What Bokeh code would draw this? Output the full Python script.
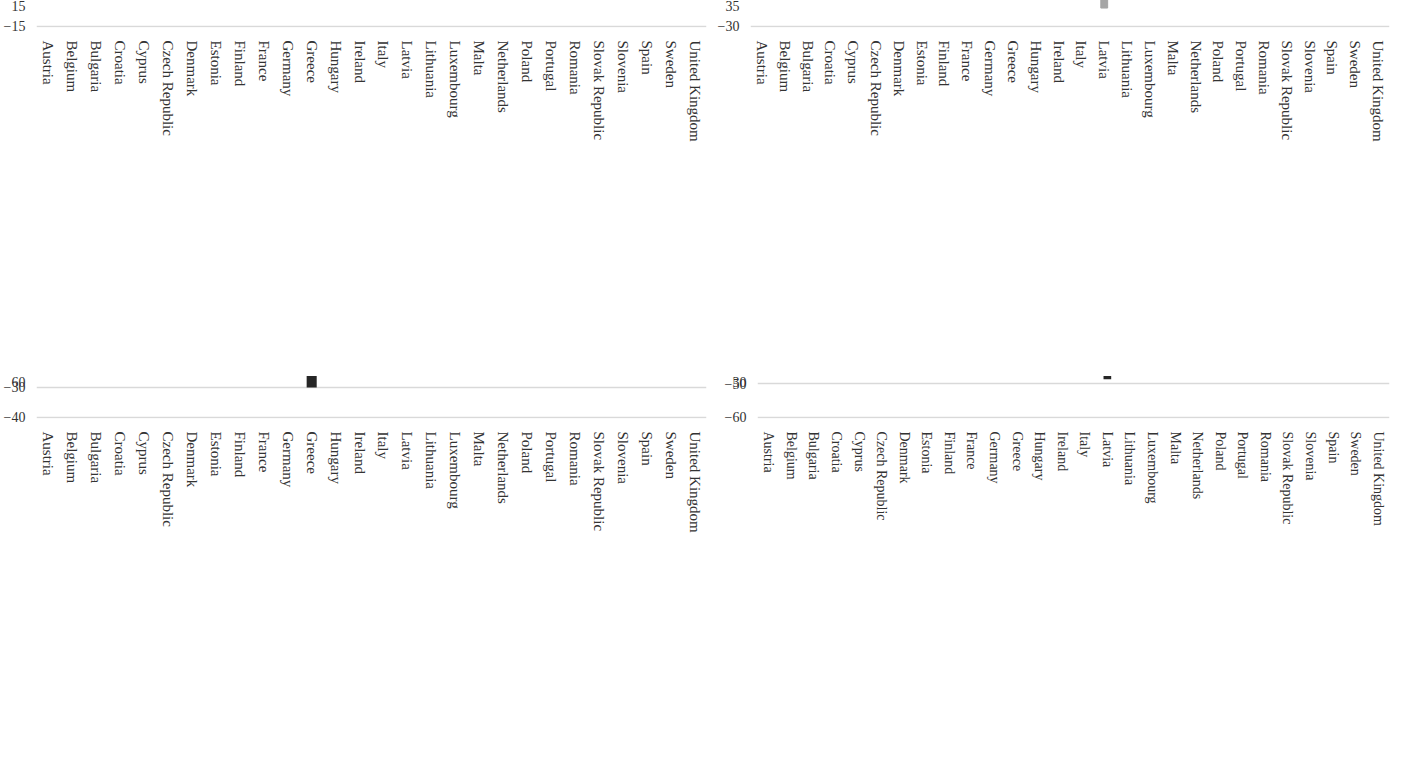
from bokeh.plotting import figure
from bokeh.models import Range1d, FactorRange, FixedTicker, Legend, LegendItem, ColumnDataSource
from bokeh.layouts import column, row
from bokeh.embed import file_html
from bokeh.resources import INLINE

countries = ["Austria", "Belgium", "Bulgaria", "Croatia", "Cyprus", "Czech Republic", "Denmark",
             "Estonia", "Finland", "France", "Germany", "Greece", "Hungary", "Ireland", "Italy",
             "Latvia", "Lithuania", "Luxembourg", "Malta", "Netherlands", "Poland", "Portugal",
             "Romania", "Slovak Republic", "Slovenia", "Spain", "Sweden", "United Kingdom"]

# Panel 1: Development of Public and Private Shares of Total Health Care Expenditures
shares_public = [-1.4, -0.3, -0.2, -0.4, 6.3, 2.1, -0.1, -2.0, -0.4, 0.2, 7.8, 10.6, -1.1, -3.1,
                 0.8, -0.1, 0.3, -1.6, -0.2, 0.8, 0.15, 1.3, -1.2, -3.3, 0.1, 1.1, 0.15, 0.15]
shares_private = [1.4, 0.3, 0.2, 0.4, -6.8, -2.2, 0.2, 0.7, 0.5, -0.2, -8.0, -10.5, 1.2, 3.1,
                  -0.8, 0.2, -0.4, 1.6, 0.2, -1.0, 0.0, -1.4, 1.2, 3.2, -0.3, -1.1, 0.0, 0.0]

# Panel 2: Development of Total Health Expenditures
total_ppp = [6.9, 11.7, 18.0, 0.0, -0.6, 7.9, 13.3, 5.1, 6.6, 9.5, 12.0, -7.4, 10.4, 12.3, 3.5,
             -1.6, 4.1, 6.4, 9.2, 6.4, 16.1, 7.6, 16.4, 18.0, 2.1, 3.5, 1.6, 9.2]
total_usd = [-4.7, -2.5, 6.2, -10.7, -9.4, -5.4, -2.1, -10.7, -5.2, -4.1, -0.7, -14.1, -11.9, -8.8,
             -7.9, -24.5, -14.1, -1.4, -1.4, -3.6, -9.5, -4.7, -9.5, 3.4, -7.4, -6.4, -4.7, -8.2]

# Panel 3: Percental Change in HE per Capita, PPP (current international $)
ppp_public = [5.0, 11.6, 17.2, 0.5, 14.1, 11.2, 12.9, 1.9, 5.8, 9.3, 23.7, 9.8, 8.3, 7.7, 4.2,
              -0.7, 4.2, 3.7, 8.3, 7.0, 15.8, 9.8, 14.5, 12.7, 1.9, 5.0, 0.8, 9.1]
ppp_private = [12.2, 10.4, 17.9, 1.5, -12.5, -4.2, 13.7, 7.8, 8.7, 10.0, -24.1, -30.1, 14.1, 29.2,
               0.0, -2.0, 2.4, 20.0, 10.4, 1.3, 14.9, 2.9, 23.7, 33.4, 1.6, -1.0, 1.7, 8.1]

# Panel 4: Percental Change in HE per Capita, current US $
usd_public = [-6.5, -2.4, 5.7, -11.2, 4.1, -2.7, -2.1, -13.0, -5.7, -4.7, 9.5, 0.6, -13.6, -12.2,
              -7.4, -24.8, -13.6, -3.3, -1.5, -2.2, -9.0, -2.7, -10.6, -0.8, -7.2, -5.1, -4.7, -7.9]
usd_private = [0.0, -4.0, 6.9, -8.1, -20.1, -15.6, -1.4, -8.7, -2.8, -2.7, -33.0, -35.8, -8.8, 5.0,
               -10.4, -23.8, -15.3, 11.0, -0.3, -8.1, -9.6, -8.6, -4.1, 16.7, -7.5, -10.1, -4.8, -9.2]

GRAY = "#a6a6a6"
DARK = "#262626"
FONT = "Liberation Serif"
MINUS = "\u2212"


def stack(series_list):
    """Excel-style stacking: positives pile up from 0, negatives pile down from 0."""
    n = len(countries)
    pos = [0.0] * n
    neg = [0.0] * n
    out = []
    for vals in series_list:
        xs, bottoms, tops, ends = [], [], [], []
        for i, v in enumerate(vals):
            v = float(v)
            if v == 0:
                continue
            if v > 0:
                b, t = pos[i], pos[i] + v
                pos[i] = t
                e = t
            else:
                b, t = neg[i] + v, neg[i]
                neg[i] = b
                e = b
            xs.append(countries[i])
            bottoms.append(b)
            tops.append(t)
            ends.append(e)
        out.append((xs, bottoms, tops, ends))
    return out


def panel(title, series, names, colors, lo, hi, step, w, h, bl, br, bt, bb,
          bar_w, label_size, overrides=None, mode="overlay", outline=True, use_cds=True):
    pad = (hi - lo) * 0.004
    p = figure(x_range=FactorRange(factors=countries), y_range=Range1d(lo - pad, hi + pad),
               width=w, height=h, output_backend="svg", toolbar_location=None,
               min_border_left=bl, min_border_right=br, min_border_top=bt, min_border_bottom=bb)
    p.title.text = title
    p.title.align = "center"
    p.title.text_font = FONT
    p.title.text_font_size = "14px"
    p.title.text_font_style = "normal"
    p.title.text_color = "#222222"
    p.outline_line_color = None
    p.xgrid.grid_line_color = None
    p.ygrid.grid_line_color = "#d9d9d9"
    p.ygrid.grid_line_width = 1.5
    ticks = list(range(lo, hi + 1, step))
    p.yaxis.ticker = FixedTicker(ticks=ticks)
    ov = {t: (MINUS + str(-t) if t < 0 else str(t)) for t in ticks}
    if overrides:
        ov.update(overrides)
    p.yaxis.major_label_overrides = ov
    for ax in (p.xaxis, p.yaxis):
        ax.axis_line_color = None
        ax.major_tick_line_color = None
        ax.minor_tick_line_color = None
        ax.major_label_text_font = FONT
        ax.major_label_text_color = "#333333"
    p.yaxis.major_label_text_font_size = "14px"
    p.xaxis.major_label_text_font_size = label_size
    p.xaxis.major_label_orientation = "vertical"
    p.xaxis.major_label_standoff = 7
    stacked = stack(series)
    rends = {}
    order = list(range(len(series)))
    if mode == "overlay":
        order = order[::-1]
    for k in order:
        xs, bottom, top, ends = stacked[k]
        col = colors[k]
        lc = col if outline else None
        if mode == "overlay":
            if use_cds:
                src = ColumnDataSource(dict(x=xs, top=ends))
                r = p.vbar(x="x", top="top", width=bar_w, source=src, fill_color=col, line_color=lc)
            else:
                r = p.vbar(x=xs, top=ends, width=bar_w, fill_color=col, line_color=lc)
        else:
            if use_cds:
                src = ColumnDataSource(dict(x=xs, bottom=bottom, top=top))
                r = p.vbar(x="x", bottom="bottom", top="top", width=bar_w, source=src,
                           fill_color=col, line_color=lc)
            else:
                r = p.vbar(x=xs, bottom=bottom, top=top, width=bar_w, fill_color=col, line_color=lc)
        rends[k] = r
    legend = Legend(items=[LegendItem(label=names[k], renderers=[rends[k]]) for k in range(len(series))],
                    orientation="horizontal", location="center",
                    label_text_font=FONT, label_text_font_size="15px", label_text_color="#222222",
                    glyph_width=8, glyph_height=8, label_standoff=2, spacing=16,
                    padding=0, margin=8, border_line_color=None, background_fill_alpha=0)
    p.add_layout(legend, "below")
    return p


p1 = panel("Development of Public and Private Shares of Total Health Care Expenditures",
           [shares_public, shares_private], ["public", "private"], [GRAY, DARK],
           -15, 15, 5, 708, 376, 28, 2, 26, 163, 0.4, "15px",
           mode="overlay", outline=True, use_cds=False)
p2 = panel("Development of Total Health Expenditures",
           [total_ppp, total_usd], ["PPP (current international $)", "current US $"], [DARK, GRAY],
           -30, 30, 10, 683, 376, 42, 2, 25, 160, 0.3, "15px", overrides={30: "35"},
           mode="bottom", outline=True, use_cds=True)
p3 = panel("Percental Change in HE per Capita, PPP (current international $)",
           [ppp_public, ppp_private], ["public", "private"], [GRAY, DARK],
           -40, 60, 10, 708, 372, 28, 2, 38, 161, 0.42, "15px",
           mode="overlay", outline=False, use_cds=True)
p4 = panel("Percental Change in HE per Capita, current US $",
           [usd_public, usd_private], ["public", "private"], [GRAY, DARK],
           -60, 30, 10, 683, 372, 49, 2, 42, 119, 0.34, "14px",
           mode="bottom", outline=False, use_cds=False)

layout = column(row(p1, p2), row(p3, p4))
open("out.html", "w").write(file_html(layout, INLINE))
